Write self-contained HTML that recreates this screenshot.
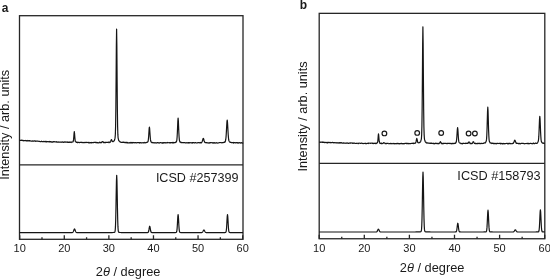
<!DOCTYPE html>
<html><head><meta charset="utf-8"><style>
html,body{margin:0;padding:0;background:#fff;}
body{width:550px;height:279px;overflow:hidden;}
svg{display:block;will-change:transform;}
text{font-family:"Liberation Sans",sans-serif;fill:#1a1a1a;}
</style></head><body>
<svg width="550" height="279" viewBox="0 0 550 279">
<g fill="none" stroke="#262626" stroke-width="1.3">
<rect x="19.5" y="15.7" width="223.50" height="223.60"/>
<path d="M19.5,164.8H243.0"/>
<rect x="319.2" y="13.35" width="225.60" height="225.40"/>
<path d="M319.2,163.4H544.8"/>
<path d="M19.70,239.30V235.30M41.99,239.30V237.30M64.29,239.30V235.30M86.58,239.30V237.30M108.88,239.30V235.30M131.17,239.30V237.30M153.47,239.30V235.30M175.76,239.30V237.30M198.06,239.30V235.30M220.35,239.30V237.30M242.65,239.30V235.30M319.20,238.75V234.75M341.75,238.75V236.75M364.30,238.75V234.75M386.85,238.75V236.75M409.40,238.75V234.75M431.95,238.75V236.75M454.50,238.75V234.75M477.05,238.75V236.75M499.60,238.75V234.75M522.15,238.75V236.75M544.70,238.75V234.75"/>
</g>
<g fill="none" stroke="#151515" stroke-width="1.2" stroke-linejoin="round">
<path d="M19.50,140.14 L19.90,140.34 L20.30,140.26 L20.70,140.42 L21.10,140.45 L21.50,140.14 L21.90,140.12 L22.30,140.64 L22.70,140.31 L23.10,140.32 L23.50,140.79 L23.90,140.50 L24.30,140.74 L24.70,140.54 L25.10,140.66 L25.50,140.38 L25.90,140.69 L26.30,140.85 L26.70,140.67 L27.10,140.82 L27.50,140.79 L27.90,140.45 L28.30,140.89 L28.70,140.80 L29.10,140.65 L29.50,140.51 L29.90,141.03 L30.30,140.81 L30.70,140.98 L31.10,141.10 L31.50,141.02 L31.90,141.16 L32.30,140.86 L32.70,141.13 L33.10,140.93 L33.50,141.25 L33.90,141.23 L34.30,140.78 L34.70,140.83 L35.10,140.89 L35.50,141.36 L35.90,141.07 L36.30,141.20 L36.70,141.02 L37.10,141.17 L37.50,141.11 L37.90,141.11 L38.30,141.27 L38.70,141.29 L39.10,141.50 L39.50,141.39 L39.90,141.56 L40.30,141.53 L40.70,141.63 L41.10,141.46 L41.50,141.18 L41.90,141.61 L42.30,141.70 L42.70,141.68 L43.10,141.50 L43.50,141.60 L43.90,141.32 L44.30,141.71 L44.70,141.58 L45.10,141.43 L45.50,141.31 L45.90,141.81 L46.30,141.91 L46.70,141.39 L47.10,141.83 L47.50,141.62 L47.90,141.48 L48.30,141.59 L48.70,141.89 L49.10,141.97 L49.50,141.50 L49.90,141.86 L50.30,141.53 L50.70,141.94 L51.10,141.72 L51.50,142.06 L51.90,142.13 L52.30,141.86 L52.70,142.16 L53.10,141.76 L53.50,141.63 L53.90,141.95 L54.30,141.62 L54.70,141.73 L55.10,141.87 L55.50,142.00 L55.90,141.73 L56.30,141.68 L56.70,142.18 L57.10,141.86 L57.50,142.25 L57.90,142.23 L58.30,141.93 L58.70,141.99 L59.10,142.03 L59.50,142.11 L59.90,142.10 L60.30,142.08 L60.70,142.13 L61.10,142.33 L61.50,142.08 L61.90,142.05 L62.30,142.23 L62.70,141.95 L63.10,142.00 L63.50,142.41 L63.90,142.15 L64.30,142.17 L64.70,141.86 L65.10,142.11 L65.50,142.22 L65.90,141.89 L66.30,142.26 L66.70,142.27 L67.10,141.94 L67.50,142.29 L67.90,142.20 L68.30,142.33 L68.70,142.14 L69.10,142.36 L69.50,142.38 L69.90,141.96 L70.30,141.98 L70.70,142.34 L71.10,142.51 L71.30,142.07 L71.55,142.18 L71.80,142.25 L72.05,142.06 L72.30,142.05 L72.55,141.96 L72.80,141.89 L73.05,141.81 L73.30,141.06 L73.55,139.67 L73.80,136.98 L74.05,133.46 L74.30,131.59 L74.55,133.47 L74.80,137.01 L75.05,139.61 L75.30,141.41 L75.55,141.66 L75.80,141.86 L76.05,142.12 L76.30,142.34 L76.55,142.04 L76.80,142.21 L77.05,142.25 L77.30,142.57 L77.50,142.35 L77.90,142.63 L78.30,142.24 L78.70,142.35 L79.10,142.54 L79.50,142.69 L79.90,142.44 L80.30,142.31 L80.70,142.25 L81.10,142.50 L81.50,142.30 L81.90,142.67 L82.30,142.70 L82.70,142.31 L83.10,142.37 L83.50,142.69 L83.90,142.59 L84.30,142.69 L84.70,142.42 L85.10,142.29 L85.50,142.39 L85.90,142.69 L86.30,142.38 L86.70,142.43 L87.10,142.47 L87.50,142.48 L87.90,142.47 L88.30,142.78 L88.70,142.32 L89.10,142.23 L89.50,142.80 L89.90,142.76 L90.30,142.83 L90.70,142.50 L91.10,142.81 L91.50,142.80 L91.90,142.37 L92.30,142.69 L92.70,142.75 L93.10,142.64 L93.50,142.56 L93.90,142.42 L94.30,142.45 L94.70,142.39 L95.10,142.29 L95.50,142.60 L95.90,142.42 L96.30,142.74 L96.70,142.28 L97.10,142.79 L97.50,142.67 L97.90,142.81 L98.30,142.79 L98.70,142.79 L99.10,142.59 L99.50,142.25 L99.60,142.69 L99.85,142.35 L100.10,142.42 L100.35,142.63 L100.60,142.54 L100.85,142.47 L101.10,142.77 L101.35,142.53 L101.60,142.29 L101.85,142.08 L102.10,141.99 L102.35,141.75 L102.60,141.63 L102.85,141.75 L103.10,141.99 L103.35,142.24 L103.60,142.56 L103.85,142.26 L104.10,142.66 L104.35,142.76 L104.60,142.69 L104.85,142.71 L105.10,142.22 L105.35,142.59 L105.60,142.73 L105.90,142.24 L106.30,142.36 L106.70,142.35 L107.10,142.50 L107.50,142.43 L107.90,142.44 L108.30,142.60 L108.40,142.13 L108.65,142.15 L108.90,142.17 L109.15,142.15 L109.40,142.09 L109.65,142.60 L109.90,142.47 L110.15,141.92 L110.40,141.95 L110.65,141.40 L110.90,140.80 L111.15,139.98 L111.40,139.55 L111.65,139.90 L111.90,140.64 L112.15,141.07 L112.40,141.50 L112.65,141.48 L112.90,141.72 L113.15,141.72 L113.40,141.39 L113.60,141.07 L113.65,141.09 L113.85,141.02 L113.90,141.10 L114.10,140.97 L114.15,140.65 L114.35,140.58 L114.40,140.37 L114.60,139.80 L114.85,138.93 L115.10,137.51 L115.35,134.27 L115.60,125.90 L115.85,108.50 L116.10,79.21 L116.35,45.66 L116.60,28.98 L116.85,45.66 L117.10,79.22 L117.35,108.35 L117.60,125.92 L117.85,134.40 L118.10,137.80 L118.35,138.97 L118.60,140.12 L118.85,140.62 L119.10,140.71 L119.35,141.14 L119.60,141.17 L119.90,141.81 L120.30,141.93 L120.70,142.23 L121.10,142.29 L121.50,142.31 L121.90,142.42 L122.30,142.38 L122.70,142.15 L123.10,142.48 L123.50,142.16 L123.90,142.28 L124.30,142.68 L124.70,142.26 L125.10,142.31 L125.50,142.33 L125.90,142.81 L126.30,142.41 L126.70,142.32 L127.10,142.83 L127.50,142.40 L127.90,142.85 L128.30,142.75 L128.70,142.86 L129.10,142.93 L129.50,142.71 L129.90,142.85 L130.30,142.40 L130.70,142.84 L131.10,142.70 L131.50,142.82 L131.90,142.46 L132.30,142.85 L132.70,142.97 L133.10,142.45 L133.50,142.61 L133.90,142.76 L134.30,142.92 L134.70,142.57 L135.10,142.53 L135.50,142.58 L135.90,142.80 L136.30,142.89 L136.70,142.67 L137.10,142.66 L137.50,142.68 L137.90,142.65 L138.30,142.69 L138.70,142.49 L139.10,142.75 L139.50,143.03 L139.90,142.70 L140.30,142.90 L140.70,142.54 L141.10,142.86 L141.50,142.89 L141.90,142.84 L142.30,142.74 L142.70,142.72 L143.10,142.81 L143.50,142.95 L143.90,142.50 L144.30,142.45 L144.70,142.83 L145.10,142.91 L145.50,142.65 L145.90,142.57 L146.30,142.69 L146.40,142.35 L146.65,142.36 L146.90,142.26 L147.15,142.41 L147.40,142.13 L147.65,141.89 L147.90,141.77 L148.15,141.09 L148.40,139.03 L148.65,136.46 L148.90,132.50 L149.15,128.70 L149.40,126.98 L149.65,128.70 L149.90,132.50 L150.15,136.05 L150.40,139.15 L150.65,140.75 L150.90,141.47 L151.15,141.97 L151.40,142.14 L151.65,142.53 L151.90,142.23 L152.15,142.80 L152.40,142.54 L152.70,142.65 L153.10,142.61 L153.50,142.86 L153.90,142.88 L154.30,142.74 L154.70,142.70 L155.10,142.86 L155.50,142.95 L155.90,142.68 L156.30,142.89 L156.70,143.03 L157.10,142.74 L157.50,142.60 L157.90,142.61 L158.30,142.90 L158.70,142.88 L159.10,143.05 L159.50,142.99 L159.90,142.62 L160.30,142.59 L160.70,142.64 L161.10,142.60 L161.50,142.91 L161.90,143.00 L162.30,143.03 L162.70,142.64 L163.10,143.01 L163.50,142.67 L163.90,142.74 L164.30,142.92 L164.70,142.54 L165.10,142.54 L165.50,142.99 L165.90,142.66 L166.30,142.70 L166.70,142.83 L167.10,142.89 L167.50,142.48 L167.90,142.68 L168.30,142.74 L168.70,142.76 L169.10,142.60 L169.50,142.82 L169.90,143.04 L170.30,142.69 L170.70,142.78 L171.10,142.52 L171.50,142.60 L171.90,142.82 L172.30,142.48 L172.70,142.93 L173.10,142.92 L173.50,142.41 L173.90,142.88 L174.30,142.50 L174.70,142.68 L175.10,142.59 L175.35,142.24 L175.60,142.38 L175.85,142.25 L176.10,142.16 L176.35,141.53 L176.60,141.21 L176.85,140.02 L177.10,137.24 L177.35,132.74 L177.60,126.72 L177.85,120.77 L178.10,118.09 L178.35,120.77 L178.60,126.72 L178.85,132.76 L179.10,136.95 L179.35,139.83 L179.60,141.14 L179.85,141.48 L180.10,142.21 L180.35,142.25 L180.60,142.05 L180.85,142.63 L181.10,142.23 L181.50,142.42 L181.90,142.72 L182.30,142.69 L182.70,142.69 L183.10,142.78 L183.50,142.68 L183.90,142.61 L184.30,142.54 L184.70,142.49 L185.10,142.89 L185.50,142.92 L185.90,142.80 L186.30,142.92 L186.70,142.70 L187.10,142.65 L187.50,142.72 L187.90,143.02 L188.30,142.53 L188.70,142.81 L189.10,142.65 L189.50,142.97 L189.90,142.72 L190.30,142.71 L190.70,142.75 L191.10,142.84 L191.50,142.98 L191.90,142.73 L192.30,143.02 L192.70,142.58 L193.10,142.68 L193.50,142.58 L193.90,142.59 L194.30,142.99 L194.70,142.95 L195.10,142.63 L195.50,142.63 L195.90,142.77 L196.30,142.96 L196.70,143.00 L197.10,142.96 L197.50,142.86 L197.90,142.59 L198.30,142.74 L198.70,142.61 L199.10,142.80 L199.50,142.82 L199.90,142.58 L200.30,142.59 L200.55,142.89 L200.80,142.41 L201.05,142.84 L201.30,142.82 L201.55,142.74 L201.80,142.17 L202.05,141.89 L202.30,141.30 L202.55,140.52 L202.80,139.51 L203.05,138.71 L203.30,138.38 L203.55,138.71 L203.80,139.51 L204.05,140.50 L204.30,141.39 L204.55,141.56 L204.80,142.41 L205.05,142.57 L205.30,142.59 L205.55,142.67 L205.80,142.67 L206.05,142.54 L206.30,142.76 L206.70,142.49 L207.10,142.78 L207.50,142.88 L207.90,142.77 L208.30,142.85 L208.70,143.09 L209.10,143.05 L209.50,142.60 L209.90,143.00 L210.30,142.90 L210.70,142.56 L211.10,142.74 L211.50,142.67 L211.90,142.58 L212.30,142.85 L212.70,143.09 L213.10,142.72 L213.50,143.05 L213.90,142.95 L214.30,142.61 L214.70,143.04 L215.10,142.89 L215.50,143.08 L215.90,142.95 L216.30,142.96 L216.70,142.72 L217.10,143.00 L217.50,143.07 L217.90,143.02 L218.30,142.77 L218.70,142.95 L219.10,142.78 L219.50,142.55 L219.90,142.50 L220.30,142.51 L220.70,142.57 L221.10,142.53 L221.50,142.72 L221.90,142.81 L222.30,142.69 L222.70,142.58 L223.10,142.67 L223.50,142.40 L223.90,142.41 L224.20,142.50 L224.45,142.19 L224.70,141.92 L224.95,142.16 L225.20,141.71 L225.45,140.87 L225.70,139.73 L225.95,137.83 L226.20,134.77 L226.45,130.36 L226.70,125.77 L226.95,121.68 L227.20,120.00 L227.45,121.68 L227.70,125.77 L227.95,130.35 L228.20,134.54 L228.45,137.62 L228.70,139.75 L228.95,140.76 L229.20,141.30 L229.45,141.69 L229.70,141.92 L229.95,142.25 L230.20,142.09 L230.30,142.10 L230.70,142.46 L231.10,142.51 L231.50,142.74 L231.90,142.39 L232.30,142.64 L232.70,142.66 L233.10,142.46 L233.50,143.04 L233.90,142.61 L234.30,142.54 L234.70,142.78 L235.10,142.61 L235.50,142.89 L235.90,142.73 L236.30,142.60 L236.70,142.57 L237.10,142.98 L237.50,142.71 L237.90,143.02 L238.30,142.83 L238.70,143.11 L239.10,142.74 L239.50,142.71 L239.90,142.72 L240.30,143.05 L240.70,142.94 L241.10,142.78 L241.50,142.63 L241.90,142.98 L242.30,143.16 L242.70,142.93 L243.10,142.58"/>
<path d="M19.50,232.60 L19.75,232.60 L20.00,232.60 L20.25,232.60 L20.50,232.60 L20.75,232.60 L21.00,232.60 L21.25,232.60 L21.50,232.60 L21.75,232.60 L22.00,232.60 L22.25,232.60 L22.50,232.60 L22.75,232.60 L23.00,232.60 L23.25,232.60 L23.50,232.60 L23.75,232.60 L24.00,232.60 L24.25,232.60 L24.50,232.60 L24.75,232.60 L25.00,232.60 L25.25,232.60 L25.50,232.60 L25.75,232.60 L26.00,232.60 L26.25,232.60 L26.50,232.60 L26.75,232.60 L27.00,232.60 L27.25,232.60 L27.50,232.60 L27.75,232.60 L28.00,232.60 L28.25,232.60 L28.50,232.60 L28.75,232.60 L29.00,232.60 L29.25,232.60 L29.50,232.60 L29.75,232.60 L30.00,232.60 L30.25,232.60 L30.50,232.60 L30.75,232.60 L31.00,232.60 L31.25,232.60 L31.50,232.60 L31.75,232.60 L32.00,232.60 L32.25,232.60 L32.50,232.60 L32.75,232.60 L33.00,232.60 L33.25,232.60 L33.50,232.60 L33.75,232.60 L34.00,232.60 L34.25,232.60 L34.50,232.60 L34.75,232.60 L35.00,232.60 L35.25,232.60 L35.50,232.60 L35.75,232.60 L36.00,232.60 L36.25,232.60 L36.50,232.60 L36.75,232.60 L37.00,232.60 L37.25,232.60 L37.50,232.60 L37.75,232.60 L38.00,232.60 L38.25,232.60 L38.50,232.60 L38.75,232.60 L39.00,232.60 L39.25,232.60 L39.50,232.60 L39.75,232.60 L40.00,232.60 L40.25,232.60 L40.50,232.60 L40.75,232.60 L41.00,232.60 L41.25,232.60 L41.50,232.60 L41.75,232.60 L42.00,232.60 L42.25,232.60 L42.50,232.60 L42.75,232.60 L43.00,232.60 L43.25,232.60 L43.50,232.60 L43.75,232.60 L44.00,232.60 L44.25,232.60 L44.50,232.60 L44.75,232.60 L45.00,232.60 L45.25,232.60 L45.50,232.60 L45.75,232.60 L46.00,232.60 L46.25,232.60 L46.50,232.60 L46.75,232.60 L47.00,232.60 L47.25,232.60 L47.50,232.60 L47.75,232.60 L48.00,232.60 L48.25,232.60 L48.50,232.60 L48.75,232.60 L49.00,232.60 L49.25,232.60 L49.50,232.60 L49.75,232.60 L50.00,232.60 L50.25,232.60 L50.50,232.60 L50.75,232.60 L51.00,232.60 L51.25,232.60 L51.50,232.60 L51.75,232.60 L52.00,232.60 L52.25,232.60 L52.50,232.60 L52.75,232.60 L53.00,232.60 L53.25,232.60 L53.50,232.60 L53.75,232.60 L54.00,232.60 L54.25,232.60 L54.50,232.60 L54.75,232.60 L55.00,232.60 L55.25,232.60 L55.50,232.60 L55.75,232.60 L56.00,232.60 L56.25,232.60 L56.50,232.60 L56.75,232.60 L57.00,232.60 L57.25,232.60 L57.50,232.60 L57.75,232.60 L58.00,232.60 L58.25,232.60 L58.50,232.60 L58.75,232.60 L59.00,232.60 L59.25,232.60 L59.50,232.60 L59.75,232.60 L60.00,232.60 L60.25,232.60 L60.50,232.60 L60.75,232.60 L61.00,232.60 L61.25,232.60 L61.50,232.60 L61.75,232.60 L62.00,232.60 L62.25,232.60 L62.50,232.60 L62.75,232.60 L63.00,232.60 L63.25,232.60 L63.50,232.60 L63.75,232.60 L64.00,232.60 L64.25,232.60 L64.50,232.60 L64.75,232.60 L65.00,232.60 L65.25,232.60 L65.50,232.60 L65.75,232.60 L66.00,232.60 L66.25,232.60 L66.50,232.60 L66.75,232.60 L67.00,232.60 L67.25,232.60 L67.50,232.60 L67.75,232.60 L68.00,232.60 L68.25,232.60 L68.50,232.60 L68.75,232.60 L69.00,232.60 L69.25,232.59 L69.50,232.59 L69.75,232.59 L70.00,232.59 L70.25,232.59 L70.50,232.59 L70.75,232.59 L71.00,232.59 L71.25,232.59 L71.50,232.58 L71.75,232.58 L72.00,232.57 L72.25,232.55 L72.50,232.50 L72.75,232.38 L73.00,232.15 L73.25,231.76 L73.50,231.17 L73.75,230.45 L74.00,229.70 L74.25,229.12 L74.50,228.90 L74.75,229.12 L75.00,229.70 L75.25,230.45 L75.50,231.17 L75.75,231.76 L76.00,232.15 L76.25,232.38 L76.50,232.50 L76.75,232.55 L77.00,232.57 L77.25,232.58 L77.50,232.58 L77.75,232.59 L78.00,232.59 L78.25,232.59 L78.50,232.59 L78.75,232.59 L79.00,232.59 L79.25,232.59 L79.50,232.59 L79.75,232.59 L80.00,232.59 L80.25,232.59 L80.50,232.60 L80.75,232.60 L81.00,232.60 L81.25,232.60 L81.50,232.60 L81.75,232.60 L82.00,232.60 L82.25,232.60 L82.50,232.60 L82.75,232.60 L83.00,232.60 L83.25,232.60 L83.50,232.60 L83.75,232.60 L84.00,232.60 L84.25,232.60 L84.50,232.60 L84.75,232.60 L85.00,232.60 L85.25,232.60 L85.50,232.60 L85.75,232.60 L86.00,232.60 L86.25,232.60 L86.50,232.60 L86.75,232.60 L87.00,232.60 L87.25,232.60 L87.50,232.60 L87.75,232.60 L88.00,232.60 L88.25,232.60 L88.50,232.60 L88.75,232.60 L89.00,232.60 L89.25,232.60 L89.50,232.60 L89.75,232.60 L90.00,232.60 L90.25,232.60 L90.50,232.60 L90.75,232.60 L91.00,232.60 L91.25,232.60 L91.50,232.60 L91.75,232.60 L92.00,232.60 L92.25,232.60 L92.50,232.60 L92.75,232.60 L93.00,232.60 L93.25,232.60 L93.50,232.60 L93.75,232.60 L94.00,232.60 L94.25,232.60 L94.50,232.60 L94.75,232.60 L95.00,232.60 L95.25,232.60 L95.50,232.60 L95.75,232.60 L96.00,232.60 L96.25,232.60 L96.50,232.60 L96.75,232.60 L97.00,232.60 L97.25,232.60 L97.50,232.60 L97.75,232.60 L98.00,232.60 L98.25,232.60 L98.50,232.60 L98.75,232.60 L99.00,232.60 L99.25,232.60 L99.50,232.60 L99.75,232.60 L100.00,232.59 L100.25,232.59 L100.50,232.59 L100.75,232.59 L101.00,232.59 L101.25,232.59 L101.50,232.59 L101.75,232.59 L102.00,232.59 L102.25,232.59 L102.50,232.59 L102.75,232.59 L103.00,232.59 L103.25,232.59 L103.50,232.59 L103.75,232.59 L104.00,232.59 L104.25,232.59 L104.50,232.59 L104.75,232.59 L105.00,232.59 L105.25,232.59 L105.50,232.59 L105.75,232.59 L106.00,232.59 L106.25,232.59 L106.50,232.59 L106.75,232.59 L107.00,232.59 L107.25,232.59 L107.50,232.58 L107.75,232.58 L108.00,232.58 L108.25,232.58 L108.50,232.58 L108.75,232.58 L109.00,232.58 L109.25,232.58 L109.50,232.57 L109.75,232.57 L110.00,232.57 L110.25,232.57 L110.50,232.57 L110.75,232.56 L111.00,232.56 L111.25,232.56 L111.50,232.55 L111.75,232.55 L112.00,232.54 L112.25,232.54 L112.50,232.53 L112.75,232.52 L113.00,232.51 L113.25,232.49 L113.50,232.48 L113.70,232.46 L113.95,232.44 L114.20,232.40 L114.45,232.34 L114.70,232.18 L114.95,231.71 L115.20,230.35 L115.45,226.91 L115.70,219.84 L115.95,208.23 L116.20,193.60 L116.45,180.67 L116.70,175.40 L116.95,180.67 L117.20,193.60 L117.45,208.23 L117.70,219.84 L117.95,226.91 L118.20,230.35 L118.45,231.71 L118.70,232.18 L118.95,232.34 L119.20,232.40 L119.45,232.44 L119.70,232.46 L119.75,232.47 L120.00,232.48 L120.25,232.50 L120.50,232.51 L120.75,232.52 L121.00,232.53 L121.25,232.54 L121.50,232.54 L121.75,232.55 L122.00,232.55 L122.25,232.56 L122.50,232.56 L122.75,232.56 L123.00,232.57 L123.25,232.57 L123.50,232.57 L123.75,232.57 L124.00,232.58 L124.25,232.58 L124.50,232.58 L124.75,232.58 L125.00,232.58 L125.25,232.58 L125.50,232.58 L125.75,232.58 L126.00,232.58 L126.25,232.59 L126.50,232.59 L126.75,232.59 L127.00,232.59 L127.25,232.59 L127.50,232.59 L127.75,232.59 L128.00,232.59 L128.25,232.59 L128.50,232.59 L128.75,232.59 L129.00,232.59 L129.25,232.59 L129.50,232.59 L129.75,232.59 L130.00,232.59 L130.25,232.59 L130.50,232.59 L130.75,232.59 L131.00,232.59 L131.25,232.59 L131.50,232.59 L131.75,232.59 L132.00,232.59 L132.25,232.59 L132.50,232.59 L132.75,232.59 L133.00,232.59 L133.25,232.59 L133.50,232.59 L133.75,232.59 L134.00,232.59 L134.25,232.59 L134.50,232.59 L134.75,232.59 L135.00,232.60 L135.25,232.60 L135.50,232.60 L135.75,232.60 L136.00,232.60 L136.25,232.60 L136.50,232.60 L136.75,232.60 L137.00,232.60 L137.25,232.60 L137.50,232.60 L137.75,232.60 L138.00,232.60 L138.25,232.60 L138.50,232.60 L138.75,232.60 L139.00,232.60 L139.25,232.60 L139.50,232.60 L139.75,232.60 L140.00,232.60 L140.25,232.60 L140.50,232.60 L140.75,232.60 L141.00,232.60 L141.25,232.60 L141.50,232.60 L141.75,232.60 L142.00,232.59 L142.25,232.59 L142.50,232.59 L142.75,232.59 L143.00,232.59 L143.25,232.59 L143.50,232.59 L143.75,232.59 L144.00,232.59 L144.25,232.59 L144.50,232.59 L144.75,232.59 L145.00,232.59 L145.25,232.59 L145.50,232.59 L145.75,232.59 L146.00,232.59 L146.25,232.59 L146.50,232.58 L146.70,232.58 L146.95,232.58 L147.20,232.57 L147.45,232.57 L147.70,232.54 L147.95,232.47 L148.20,232.29 L148.45,231.85 L148.70,231.02 L148.95,229.71 L149.20,228.12 L149.45,226.75 L149.70,226.20 L149.95,226.75 L150.20,228.12 L150.45,229.71 L150.70,231.02 L150.95,231.86 L151.20,232.29 L151.45,232.47 L151.70,232.54 L151.95,232.57 L152.20,232.57 L152.45,232.58 L152.70,232.58 L152.75,232.58 L153.00,232.58 L153.25,232.59 L153.50,232.59 L153.75,232.59 L154.00,232.59 L154.25,232.59 L154.50,232.59 L154.75,232.59 L155.00,232.59 L155.25,232.59 L155.50,232.59 L155.75,232.59 L156.00,232.59 L156.25,232.59 L156.50,232.59 L156.75,232.60 L157.00,232.60 L157.25,232.60 L157.50,232.60 L157.75,232.60 L158.00,232.60 L158.25,232.60 L158.50,232.60 L158.75,232.60 L159.00,232.60 L159.25,232.60 L159.50,232.60 L159.75,232.60 L160.00,232.60 L160.25,232.60 L160.50,232.60 L160.75,232.60 L161.00,232.60 L161.25,232.60 L161.50,232.60 L161.75,232.60 L162.00,232.60 L162.25,232.60 L162.50,232.60 L162.75,232.60 L163.00,232.60 L163.25,232.60 L163.50,232.60 L163.75,232.60 L164.00,232.60 L164.25,232.60 L164.50,232.60 L164.75,232.60 L165.00,232.60 L165.25,232.60 L165.50,232.60 L165.75,232.60 L166.00,232.60 L166.25,232.60 L166.50,232.60 L166.75,232.60 L167.00,232.60 L167.25,232.60 L167.50,232.60 L167.75,232.60 L168.00,232.59 L168.25,232.59 L168.50,232.59 L168.75,232.59 L169.00,232.59 L169.25,232.59 L169.50,232.59 L169.75,232.59 L170.00,232.59 L170.25,232.59 L170.50,232.59 L170.75,232.59 L171.00,232.59 L171.25,232.59 L171.50,232.59 L171.75,232.59 L172.00,232.59 L172.25,232.59 L172.50,232.59 L172.75,232.59 L173.00,232.58 L173.25,232.58 L173.50,232.58 L173.75,232.58 L174.00,232.58 L174.25,232.57 L174.50,232.57 L174.75,232.56 L175.00,232.56 L175.10,232.56 L175.35,232.55 L175.60,232.54 L175.85,232.52 L176.10,232.47 L176.35,232.32 L176.60,231.89 L176.85,230.82 L177.10,228.60 L177.35,224.97 L177.60,220.40 L177.85,216.35 L178.10,214.70 L178.35,216.35 L178.60,220.40 L178.85,224.97 L179.10,228.60 L179.35,230.82 L179.60,231.89 L179.85,232.32 L180.10,232.47 L180.35,232.52 L180.60,232.54 L180.85,232.55 L181.10,232.56 L181.25,232.56 L181.50,232.57 L181.75,232.57 L182.00,232.57 L182.25,232.58 L182.50,232.58 L182.75,232.58 L183.00,232.58 L183.25,232.58 L183.50,232.59 L183.75,232.59 L184.00,232.59 L184.25,232.59 L184.50,232.59 L184.75,232.59 L185.00,232.59 L185.25,232.59 L185.50,232.59 L185.75,232.59 L186.00,232.59 L186.25,232.59 L186.50,232.59 L186.75,232.59 L187.00,232.59 L187.25,232.59 L187.50,232.59 L187.75,232.59 L188.00,232.59 L188.25,232.59 L188.50,232.60 L188.75,232.60 L189.00,232.60 L189.25,232.60 L189.50,232.60 L189.75,232.60 L190.00,232.60 L190.25,232.60 L190.50,232.60 L190.75,232.60 L191.00,232.60 L191.25,232.60 L191.50,232.60 L191.75,232.60 L192.00,232.60 L192.25,232.60 L192.50,232.60 L192.75,232.60 L193.00,232.60 L193.25,232.60 L193.50,232.60 L193.75,232.60 L194.00,232.60 L194.25,232.60 L194.50,232.60 L194.75,232.60 L195.00,232.60 L195.25,232.60 L195.50,232.60 L195.75,232.60 L196.00,232.60 L196.25,232.60 L196.50,232.60 L196.75,232.60 L197.00,232.60 L197.25,232.60 L197.50,232.60 L197.75,232.60 L198.00,232.60 L198.25,232.60 L198.50,232.59 L198.75,232.59 L199.00,232.59 L199.25,232.59 L199.50,232.59 L199.75,232.59 L200.00,232.59 L200.25,232.59 L200.50,232.59 L200.75,232.59 L200.90,232.59 L201.15,232.58 L201.40,232.57 L201.65,232.55 L201.90,232.50 L202.15,232.39 L202.40,232.20 L202.65,231.91 L202.90,231.49 L203.15,231.00 L203.40,230.50 L203.65,230.14 L203.90,230.00 L204.15,230.14 L204.40,230.50 L204.65,231.00 L204.90,231.49 L205.15,231.91 L205.40,232.20 L205.65,232.39 L205.90,232.50 L206.15,232.55 L206.40,232.57 L206.65,232.58 L206.90,232.59 L207.00,232.59 L207.25,232.59 L207.50,232.59 L207.75,232.59 L208.00,232.59 L208.25,232.59 L208.50,232.59 L208.75,232.59 L209.00,232.59 L209.25,232.59 L209.50,232.59 L209.75,232.60 L210.00,232.60 L210.25,232.60 L210.50,232.60 L210.75,232.60 L211.00,232.60 L211.25,232.60 L211.50,232.60 L211.75,232.60 L212.00,232.60 L212.25,232.60 L212.50,232.60 L212.75,232.60 L213.00,232.60 L213.25,232.60 L213.50,232.60 L213.75,232.60 L214.00,232.60 L214.25,232.60 L214.50,232.60 L214.75,232.60 L215.00,232.60 L215.25,232.60 L215.50,232.60 L215.75,232.60 L216.00,232.60 L216.25,232.60 L216.50,232.60 L216.75,232.60 L217.00,232.60 L217.25,232.60 L217.50,232.59 L217.75,232.59 L218.00,232.59 L218.25,232.59 L218.50,232.59 L218.75,232.59 L219.00,232.59 L219.25,232.59 L219.50,232.59 L219.75,232.59 L220.00,232.59 L220.25,232.59 L220.50,232.59 L220.75,232.59 L221.00,232.59 L221.25,232.59 L221.50,232.59 L221.75,232.59 L222.00,232.59 L222.25,232.58 L222.50,232.58 L222.75,232.58 L223.00,232.58 L223.25,232.58 L223.50,232.57 L223.75,232.57 L224.00,232.57 L224.25,232.56 L224.50,232.56 L224.75,232.55 L225.00,232.54 L225.25,232.52 L225.50,232.47 L225.75,232.32 L226.00,231.89 L226.25,230.82 L226.50,228.61 L226.75,224.97 L227.00,220.40 L227.25,216.35 L227.50,214.70 L227.75,216.35 L228.00,220.40 L228.25,224.97 L228.50,228.61 L228.75,230.82 L229.00,231.89 L229.25,232.32 L229.50,232.47 L229.75,232.52 L230.00,232.54 L230.25,232.55 L230.50,232.56 L230.75,232.56 L231.00,232.57 L231.25,232.57 L231.50,232.57 L231.75,232.58 L232.00,232.58 L232.25,232.58 L232.50,232.58 L232.75,232.59 L233.00,232.59 L233.25,232.59 L233.50,232.59 L233.75,232.59 L234.00,232.59 L234.25,232.59 L234.50,232.59 L234.75,232.59 L235.00,232.59 L235.25,232.59 L235.50,232.59 L235.75,232.59 L236.00,232.59 L236.25,232.59 L236.50,232.59 L236.75,232.59 L237.00,232.60 L237.25,232.60 L237.50,232.60 L237.75,232.60 L238.00,232.60 L238.25,232.60 L238.50,232.60 L238.75,232.60 L239.00,232.60 L239.25,232.60 L239.50,232.60 L239.75,232.60 L240.00,232.60 L240.25,232.60 L240.50,232.60 L240.75,232.60 L241.00,232.60 L241.25,232.60 L241.50,232.60 L241.75,232.60 L242.00,232.60 L242.25,232.60 L242.50,232.60 L242.75,232.60 L243.00,232.60"/>
<path d="M319.20,142.19 L319.60,142.10 L320.00,142.41 L320.40,142.08 L320.80,142.37 L321.20,142.28 L321.60,142.10 L322.00,142.38 L322.40,142.11 L322.80,142.36 L323.20,142.16 L323.60,142.18 L324.00,142.39 L324.40,142.64 L324.80,142.23 L325.20,142.30 L325.60,142.56 L326.00,142.76 L326.40,142.55 L326.80,142.45 L327.20,142.81 L327.60,142.27 L328.00,142.77 L328.40,142.44 L328.80,142.36 L329.20,142.36 L329.60,142.48 L330.00,142.80 L330.40,142.43 L330.80,142.68 L331.20,142.73 L331.60,142.58 L332.00,142.70 L332.40,142.42 L332.80,142.43 L333.20,142.52 L333.60,142.82 L334.00,142.68 L334.40,142.62 L334.80,142.80 L335.20,142.73 L335.60,142.65 L336.00,142.96 L336.40,142.91 L336.80,142.65 L337.20,142.86 L337.60,142.84 L338.00,143.06 L338.40,142.99 L338.80,142.74 L339.20,143.16 L339.60,142.66 L340.00,142.85 L340.40,143.06 L340.80,142.71 L341.20,142.92 L341.60,142.66 L342.00,143.05 L342.40,143.12 L342.80,143.01 L343.20,143.20 L343.60,142.87 L344.00,143.11 L344.40,143.06 L344.80,143.06 L345.20,143.00 L345.60,143.24 L346.00,143.31 L346.40,143.04 L346.80,143.16 L347.20,142.81 L347.60,143.21 L348.00,143.18 L348.40,143.40 L348.80,143.31 L349.20,143.00 L349.60,143.07 L350.00,143.25 L350.40,142.87 L350.80,143.14 L351.20,142.98 L351.60,142.96 L352.00,142.93 L352.40,143.37 L352.80,142.99 L353.20,143.07 L353.60,143.17 L354.00,143.47 L354.40,143.00 L354.80,143.23 L355.20,143.30 L355.60,143.51 L356.00,143.49 L356.40,143.52 L356.80,143.18 L357.20,143.27 L357.60,143.25 L358.00,143.57 L358.40,143.63 L358.80,143.15 L359.20,143.18 L359.60,143.22 L360.00,143.23 L360.40,143.39 L360.80,143.45 L361.20,143.26 L361.60,143.10 L362.00,143.35 L362.40,143.33 L362.80,143.45 L363.20,143.68 L363.60,143.52 L364.00,143.42 L364.40,143.48 L364.80,143.52 L365.20,143.15 L365.60,143.66 L366.00,143.59 L366.40,143.65 L366.80,143.60 L367.20,143.36 L367.60,143.37 L368.00,143.19 L368.40,143.51 L368.80,143.17 L369.20,143.17 L369.60,143.26 L370.00,143.23 L370.40,143.34 L370.80,143.17 L371.20,143.14 L371.60,143.23 L372.00,143.20 L372.40,143.35 L372.80,143.15 L373.20,143.66 L373.60,143.50 L374.00,143.21 L374.40,143.27 L374.80,143.32 L375.20,143.32 L375.50,143.16 L375.75,143.58 L376.00,143.65 L376.25,143.31 L376.50,143.28 L376.75,142.99 L377.00,142.92 L377.25,142.91 L377.50,142.43 L377.75,141.61 L378.00,138.99 L378.25,135.70 L378.50,133.89 L378.75,135.71 L379.00,139.00 L379.25,141.44 L379.50,142.29 L379.75,143.03 L380.00,143.46 L380.25,143.47 L380.50,143.42 L380.75,143.20 L380.80,143.27 L381.00,143.16 L381.05,143.53 L381.25,143.40 L381.30,143.55 L381.50,143.29 L381.55,143.23 L381.80,143.59 L382.05,143.69 L382.30,143.60 L382.55,143.54 L382.80,143.47 L383.05,143.28 L383.30,142.94 L383.55,142.75 L383.80,142.66 L384.05,142.76 L384.30,142.96 L384.55,143.03 L384.80,143.16 L385.05,143.51 L385.30,143.71 L385.55,143.43 L385.80,143.74 L386.05,143.78 L386.30,143.76 L386.55,143.41 L386.80,143.33 L387.20,143.34 L387.60,143.33 L388.00,143.34 L388.40,143.59 L388.80,143.76 L389.20,143.73 L389.60,143.51 L390.00,143.62 L390.40,143.71 L390.80,143.28 L391.20,143.63 L391.60,143.78 L392.00,143.71 L392.40,143.69 L392.80,143.53 L393.20,143.35 L393.60,143.72 L394.00,143.45 L394.40,143.73 L394.80,143.83 L395.20,143.49 L395.60,143.50 L396.00,143.82 L396.40,143.69 L396.80,143.36 L397.20,143.34 L397.60,143.35 L398.00,143.81 L398.40,143.75 L398.80,143.35 L399.20,143.76 L399.60,143.86 L400.00,143.66 L400.40,143.48 L400.80,143.60 L401.20,143.35 L401.60,143.27 L402.00,143.85 L402.40,143.65 L402.80,143.58 L403.20,143.82 L403.60,143.52 L404.00,143.78 L404.40,143.75 L404.80,143.38 L405.20,143.40 L405.60,143.43 L406.00,143.39 L406.40,143.60 L406.80,143.40 L407.20,143.49 L407.60,143.32 L408.00,143.78 L408.40,143.44 L408.80,143.50 L409.20,143.57 L409.60,143.76 L410.00,143.46 L410.40,143.75 L410.80,143.50 L411.20,143.51 L411.60,143.49 L412.00,143.18 L412.40,143.42 L412.80,143.25 L413.20,143.12 L413.60,143.58 L413.80,143.19 L414.05,143.35 L414.30,143.47 L414.55,143.34 L414.80,143.16 L415.05,143.22 L415.30,143.14 L415.55,143.07 L415.80,142.22 L416.05,141.66 L416.30,140.39 L416.55,139.09 L416.80,138.47 L417.05,139.04 L417.30,140.29 L417.55,141.61 L417.80,142.47 L418.05,142.57 L418.30,142.81 L418.55,142.77 L418.80,142.74 L419.05,142.78 L419.30,142.54 L419.55,142.47 L419.80,142.27 L419.90,142.47 L420.15,142.09 L420.40,141.89 L420.65,141.52 L420.90,140.54 L421.15,139.86 L421.40,138.56 L421.65,135.04 L421.90,126.20 L422.15,108.16 L422.40,78.44 L422.65,43.99 L422.90,26.88 L423.15,44.00 L423.40,78.44 L423.65,108.57 L423.90,126.66 L424.15,134.64 L424.40,138.44 L424.65,139.94 L424.90,140.49 L425.15,141.51 L425.40,141.98 L425.65,141.85 L425.90,142.53 L426.00,142.28 L426.40,142.60 L426.80,143.09 L427.20,143.13 L427.60,142.83 L428.00,143.08 L428.40,143.19 L428.80,143.14 L429.20,143.10 L429.60,143.21 L430.00,143.48 L430.40,143.08 L430.80,143.42 L431.20,143.37 L431.60,143.14 L432.00,143.34 L432.40,143.53 L432.80,143.47 L433.20,143.21 L433.60,143.77 L434.00,143.66 L434.40,143.78 L434.80,143.26 L435.20,143.36 L435.60,143.23 L436.00,143.68 L436.40,143.37 L436.80,143.29 L437.20,143.47 L437.40,143.76 L437.65,143.70 L437.90,143.37 L438.15,143.30 L438.40,143.75 L438.65,143.53 L438.90,143.60 L439.15,143.19 L439.40,143.08 L439.65,143.22 L439.90,142.64 L440.15,142.06 L440.40,141.75 L440.65,142.06 L440.90,142.65 L441.15,142.86 L441.40,143.56 L441.65,143.19 L441.90,143.70 L442.15,143.48 L442.40,143.42 L442.65,143.55 L442.90,143.78 L443.15,143.39 L443.40,143.31 L443.60,143.56 L444.00,143.39 L444.40,143.31 L444.80,143.34 L445.20,143.28 L445.60,143.37 L446.00,143.44 L446.40,143.43 L446.80,143.70 L447.20,143.42 L447.60,143.55 L448.00,143.35 L448.40,143.45 L448.80,143.25 L449.20,143.39 L449.60,143.25 L450.00,143.67 L450.40,143.56 L450.80,143.34 L451.20,143.50 L451.60,143.77 L452.00,143.27 L452.40,143.68 L452.80,143.44 L453.20,143.45 L453.60,143.63 L454.00,143.34 L454.40,143.36 L454.60,143.44 L454.85,143.57 L455.10,143.13 L455.35,143.34 L455.60,143.15 L455.85,142.91 L456.10,142.37 L456.35,141.48 L456.60,139.61 L456.85,136.78 L457.10,133.09 L457.35,129.23 L457.60,127.48 L457.85,129.23 L458.10,133.09 L458.35,137.21 L458.60,140.10 L458.85,141.68 L459.10,142.30 L459.35,142.67 L459.60,142.90 L459.85,143.12 L460.10,143.02 L460.35,143.25 L460.60,143.18 L460.80,143.63 L461.20,143.68 L461.60,143.46 L462.00,143.30 L462.40,143.75 L462.80,143.37 L463.20,143.41 L463.60,143.21 L464.00,143.44 L464.40,143.50 L464.80,143.52 L465.20,143.34 L465.60,143.52 L466.00,143.22 L466.25,143.37 L466.50,143.27 L466.75,143.45 L467.00,143.22 L467.25,143.19 L467.50,143.33 L467.75,143.22 L468.00,143.28 L468.25,142.96 L468.50,142.51 L468.75,142.06 L469.00,141.85 L469.25,142.06 L469.50,142.51 L469.75,142.83 L470.00,143.51 L470.25,143.16 L470.30,143.52 L470.50,143.52 L470.55,143.17 L470.75,143.66 L470.80,143.70 L471.00,143.54 L471.05,143.61 L471.25,143.65 L471.30,143.25 L471.50,143.47 L471.55,143.45 L471.75,143.63 L471.80,143.60 L472.00,143.56 L472.05,143.39 L472.30,143.40 L472.55,142.94 L472.80,142.33 L473.05,141.80 L473.30,141.55 L473.55,141.80 L473.80,142.33 L474.05,142.60 L474.30,143.37 L474.55,143.39 L474.80,143.51 L475.05,143.55 L475.30,143.60 L475.55,143.49 L475.80,143.21 L476.05,143.69 L476.30,143.66 L476.40,143.52 L476.80,143.54 L477.20,143.62 L477.60,143.26 L478.00,143.66 L478.40,143.37 L478.80,143.26 L479.20,143.37 L479.60,143.64 L480.00,143.32 L480.40,143.63 L480.80,143.76 L481.20,143.46 L481.60,143.38 L482.00,143.41 L482.40,143.51 L482.80,143.53 L483.20,143.41 L483.60,143.37 L484.00,142.97 L484.40,142.93 L484.80,142.87 L485.05,143.06 L485.30,142.66 L485.55,142.64 L485.80,142.05 L486.05,141.63 L486.30,140.85 L486.55,139.16 L486.80,135.33 L487.05,128.83 L487.30,119.89 L487.55,111.14 L487.80,107.19 L488.05,111.14 L488.30,119.89 L488.55,128.96 L488.80,135.04 L489.05,139.34 L489.30,141.25 L489.55,141.60 L489.80,142.32 L490.05,142.79 L490.30,143.06 L490.55,142.89 L490.80,142.88 L491.20,142.97 L491.60,143.50 L492.00,143.12 L492.40,143.39 L492.80,143.16 L493.20,143.42 L493.60,143.70 L494.00,143.23 L494.40,143.66 L494.80,143.49 L495.20,143.73 L495.60,143.62 L496.00,143.35 L496.40,143.76 L496.80,143.52 L497.20,143.24 L497.60,143.24 L498.00,143.53 L498.40,143.51 L498.80,143.43 L499.20,143.33 L499.60,143.46 L500.00,143.44 L500.40,143.76 L500.80,143.26 L501.20,143.71 L501.60,143.76 L502.00,143.33 L502.40,143.82 L502.80,143.69 L503.20,143.81 L503.60,143.44 L504.00,143.49 L504.40,143.50 L504.80,143.87 L505.20,143.62 L505.60,143.48 L506.00,143.52 L506.40,143.43 L506.80,143.29 L507.20,143.33 L507.60,143.76 L508.00,143.43 L508.40,143.82 L508.80,143.41 L509.20,143.42 L509.60,143.56 L510.00,143.36 L510.40,143.47 L510.80,143.81 L511.20,143.76 L511.60,143.70 L511.80,143.58 L512.05,143.74 L512.30,143.73 L512.55,143.47 L512.80,143.52 L513.05,143.03 L513.30,143.27 L513.55,142.80 L513.80,142.52 L514.05,141.83 L514.30,141.04 L514.55,140.43 L514.80,140.18 L515.05,140.43 L515.30,141.04 L515.55,141.65 L515.80,142.25 L516.05,142.97 L516.30,143.41 L516.55,143.15 L516.80,143.48 L517.05,143.32 L517.30,143.50 L517.55,143.43 L517.80,143.30 L518.00,143.31 L518.40,143.35 L518.80,143.78 L519.20,143.54 L519.60,143.38 L520.00,143.80 L520.40,143.85 L520.80,143.53 L521.20,143.34 L521.60,143.38 L522.00,143.32 L522.40,143.47 L522.80,143.32 L523.20,143.41 L523.60,143.42 L524.00,143.61 L524.40,143.80 L524.80,143.72 L525.20,143.51 L525.60,143.51 L526.00,143.58 L526.40,143.49 L526.80,143.46 L527.20,143.30 L527.60,143.43 L528.00,143.84 L528.40,143.33 L528.80,143.55 L529.20,143.63 L529.60,143.76 L530.00,143.37 L530.40,143.40 L530.80,143.38 L531.20,143.47 L531.60,143.49 L532.00,143.79 L532.40,143.72 L532.80,143.72 L533.20,143.20 L533.60,143.19 L534.00,143.58 L534.40,143.67 L534.80,143.39 L535.20,143.43 L535.60,143.04 L536.00,143.22 L536.40,143.46 L536.80,143.30 L537.05,143.23 L537.30,143.18 L537.55,142.59 L537.80,142.26 L538.05,141.84 L538.30,141.16 L538.55,139.48 L538.80,136.41 L539.05,131.27 L539.30,124.81 L539.55,118.88 L539.80,116.30 L540.05,118.88 L540.30,124.81 L540.55,131.31 L540.80,135.98 L541.05,139.62 L541.30,141.24 L541.55,141.93 L541.80,142.27 L542.05,142.59 L542.30,142.98 L542.55,143.13 L542.80,142.87 L543.20,142.95 L543.60,143.30 L544.00,143.39 L544.40,143.31 L544.80,143.25"/>
<path d="M319.20,232.00 L319.45,232.00 L319.70,232.00 L319.95,232.00 L320.20,232.00 L320.45,232.00 L320.70,232.00 L320.95,232.00 L321.20,232.00 L321.45,232.00 L321.70,232.00 L321.95,232.00 L322.20,232.00 L322.45,232.00 L322.70,232.00 L322.95,232.00 L323.20,232.00 L323.45,232.00 L323.70,232.00 L323.95,232.00 L324.20,232.00 L324.45,232.00 L324.70,232.00 L324.95,232.00 L325.20,232.00 L325.45,232.00 L325.70,232.00 L325.95,232.00 L326.20,232.00 L326.45,232.00 L326.70,232.00 L326.95,232.00 L327.20,232.00 L327.45,232.00 L327.70,232.00 L327.95,232.00 L328.20,232.00 L328.45,232.00 L328.70,232.00 L328.95,232.00 L329.20,232.00 L329.45,232.00 L329.70,232.00 L329.95,232.00 L330.20,232.00 L330.45,232.00 L330.70,232.00 L330.95,232.00 L331.20,232.00 L331.45,232.00 L331.70,232.00 L331.95,232.00 L332.20,232.00 L332.45,232.00 L332.70,232.00 L332.95,232.00 L333.20,232.00 L333.45,232.00 L333.70,232.00 L333.95,232.00 L334.20,232.00 L334.45,232.00 L334.70,232.00 L334.95,232.00 L335.20,232.00 L335.45,232.00 L335.70,232.00 L335.95,232.00 L336.20,232.00 L336.45,232.00 L336.70,232.00 L336.95,232.00 L337.20,232.00 L337.45,232.00 L337.70,232.00 L337.95,232.00 L338.20,232.00 L338.45,232.00 L338.70,232.00 L338.95,232.00 L339.20,232.00 L339.45,232.00 L339.70,232.00 L339.95,232.00 L340.20,232.00 L340.45,232.00 L340.70,232.00 L340.95,232.00 L341.20,232.00 L341.45,232.00 L341.70,232.00 L341.95,232.00 L342.20,232.00 L342.45,232.00 L342.70,232.00 L342.95,232.00 L343.20,232.00 L343.45,232.00 L343.70,232.00 L343.95,232.00 L344.20,232.00 L344.45,232.00 L344.70,232.00 L344.95,232.00 L345.20,232.00 L345.45,232.00 L345.70,232.00 L345.95,232.00 L346.20,232.00 L346.45,232.00 L346.70,232.00 L346.95,232.00 L347.20,232.00 L347.45,232.00 L347.70,232.00 L347.95,232.00 L348.20,232.00 L348.45,232.00 L348.70,232.00 L348.95,232.00 L349.20,232.00 L349.45,232.00 L349.70,232.00 L349.95,232.00 L350.20,232.00 L350.45,232.00 L350.70,232.00 L350.95,232.00 L351.20,232.00 L351.45,232.00 L351.70,232.00 L351.95,232.00 L352.20,232.00 L352.45,232.00 L352.70,232.00 L352.95,232.00 L353.20,232.00 L353.45,232.00 L353.70,232.00 L353.95,232.00 L354.20,232.00 L354.45,232.00 L354.70,232.00 L354.95,232.00 L355.20,232.00 L355.45,232.00 L355.70,232.00 L355.95,232.00 L356.20,232.00 L356.45,232.00 L356.70,232.00 L356.95,232.00 L357.20,232.00 L357.45,232.00 L357.70,232.00 L357.95,232.00 L358.20,232.00 L358.45,232.00 L358.70,232.00 L358.95,232.00 L359.20,232.00 L359.45,232.00 L359.70,232.00 L359.95,232.00 L360.20,232.00 L360.45,232.00 L360.70,232.00 L360.95,232.00 L361.20,232.00 L361.45,232.00 L361.70,232.00 L361.95,232.00 L362.20,232.00 L362.45,232.00 L362.70,232.00 L362.95,232.00 L363.20,232.00 L363.45,232.00 L363.70,232.00 L363.95,232.00 L364.20,232.00 L364.45,232.00 L364.70,232.00 L364.95,232.00 L365.20,232.00 L365.45,232.00 L365.70,232.00 L365.95,232.00 L366.20,232.00 L366.45,232.00 L366.70,232.00 L366.95,232.00 L367.20,232.00 L367.45,232.00 L367.70,232.00 L367.95,232.00 L368.20,232.00 L368.45,232.00 L368.70,232.00 L368.95,232.00 L369.20,232.00 L369.45,232.00 L369.70,232.00 L369.95,232.00 L370.20,232.00 L370.45,232.00 L370.70,232.00 L370.95,232.00 L371.20,232.00 L371.45,232.00 L371.70,232.00 L371.95,232.00 L372.20,232.00 L372.45,232.00 L372.70,232.00 L372.95,232.00 L373.20,232.00 L373.45,232.00 L373.70,231.99 L373.95,231.99 L374.20,231.99 L374.45,231.99 L374.70,231.99 L374.95,231.99 L375.20,231.99 L375.40,231.99 L375.65,231.99 L375.90,231.98 L376.15,231.96 L376.40,231.92 L376.65,231.83 L376.90,231.66 L377.15,231.36 L377.40,230.92 L377.65,230.37 L377.90,229.80 L378.15,229.37 L378.40,229.20 L378.65,229.37 L378.90,229.80 L379.15,230.37 L379.40,230.92 L379.65,231.36 L379.90,231.66 L380.15,231.83 L380.40,231.92 L380.65,231.96 L380.90,231.98 L381.15,231.99 L381.40,231.99 L381.45,231.99 L381.70,231.99 L381.95,231.99 L382.20,231.99 L382.45,231.99 L382.70,231.99 L382.95,231.99 L383.20,231.99 L383.45,232.00 L383.70,232.00 L383.95,232.00 L384.20,232.00 L384.45,232.00 L384.70,232.00 L384.95,232.00 L385.20,232.00 L385.45,232.00 L385.70,232.00 L385.95,232.00 L386.20,232.00 L386.45,232.00 L386.70,232.00 L386.95,232.00 L387.20,232.00 L387.45,232.00 L387.70,232.00 L387.95,232.00 L388.20,232.00 L388.45,232.00 L388.70,232.00 L388.95,232.00 L389.20,232.00 L389.45,232.00 L389.70,232.00 L389.95,232.00 L390.20,232.00 L390.45,232.00 L390.70,232.00 L390.95,232.00 L391.20,232.00 L391.45,232.00 L391.70,232.00 L391.95,232.00 L392.20,232.00 L392.45,232.00 L392.70,232.00 L392.95,232.00 L393.20,232.00 L393.45,232.00 L393.70,232.00 L393.95,232.00 L394.20,232.00 L394.45,232.00 L394.70,232.00 L394.95,232.00 L395.20,232.00 L395.45,232.00 L395.70,232.00 L395.95,232.00 L396.20,232.00 L396.45,232.00 L396.70,232.00 L396.95,232.00 L397.20,232.00 L397.45,232.00 L397.70,232.00 L397.95,232.00 L398.20,232.00 L398.45,232.00 L398.70,232.00 L398.95,232.00 L399.20,232.00 L399.45,232.00 L399.70,232.00 L399.95,232.00 L400.20,232.00 L400.45,232.00 L400.70,232.00 L400.95,232.00 L401.20,232.00 L401.45,232.00 L401.70,232.00 L401.95,232.00 L402.20,232.00 L402.45,232.00 L402.70,232.00 L402.95,232.00 L403.20,232.00 L403.45,232.00 L403.70,232.00 L403.95,232.00 L404.20,232.00 L404.45,232.00 L404.70,232.00 L404.95,232.00 L405.20,232.00 L405.45,232.00 L405.70,232.00 L405.95,231.99 L406.20,231.99 L406.45,231.99 L406.70,231.99 L406.95,231.99 L407.20,231.99 L407.45,231.99 L407.70,231.99 L407.95,231.99 L408.20,231.99 L408.45,231.99 L408.70,231.99 L408.95,231.99 L409.20,231.99 L409.45,231.99 L409.70,231.99 L409.95,231.99 L410.20,231.99 L410.45,231.99 L410.70,231.99 L410.95,231.99 L411.20,231.99 L411.45,231.99 L411.70,231.99 L411.95,231.99 L412.20,231.99 L412.45,231.99 L412.70,231.99 L412.95,231.99 L413.20,231.99 L413.45,231.98 L413.70,231.98 L413.95,231.98 L414.20,231.98 L414.45,231.98 L414.70,231.98 L414.95,231.98 L415.20,231.98 L415.45,231.98 L415.70,231.97 L415.95,231.97 L416.20,231.97 L416.45,231.97 L416.70,231.97 L416.95,231.96 L417.20,231.96 L417.45,231.96 L417.70,231.95 L417.95,231.95 L418.20,231.94 L418.45,231.94 L418.70,231.93 L418.95,231.92 L419.20,231.91 L419.45,231.90 L419.70,231.88 L419.95,231.86 L420.00,231.86 L420.25,231.83 L420.50,231.79 L420.75,231.73 L421.00,231.56 L421.25,231.07 L421.50,229.64 L421.75,226.04 L422.00,218.63 L422.25,206.48 L422.50,191.16 L422.75,177.62 L423.00,172.10 L423.25,177.62 L423.50,191.16 L423.75,206.48 L424.00,218.63 L424.25,226.04 L424.50,229.64 L424.75,231.07 L425.00,231.56 L425.25,231.73 L425.50,231.79 L425.75,231.83 L426.00,231.86 L426.20,231.87 L426.45,231.89 L426.70,231.90 L426.95,231.91 L427.20,231.92 L427.45,231.93 L427.70,231.94 L427.95,231.94 L428.20,231.95 L428.45,231.95 L428.70,231.96 L428.95,231.96 L429.20,231.96 L429.45,231.97 L429.70,231.97 L429.95,231.97 L430.20,231.97 L430.45,231.98 L430.70,231.98 L430.95,231.98 L431.20,231.98 L431.45,231.98 L431.70,231.98 L431.95,231.98 L432.20,231.98 L432.45,231.98 L432.70,231.98 L432.95,231.99 L433.20,231.99 L433.45,231.99 L433.70,231.99 L433.95,231.99 L434.20,231.99 L434.45,231.99 L434.70,231.99 L434.95,231.99 L435.20,231.99 L435.45,231.99 L435.70,231.99 L435.95,231.99 L436.20,231.99 L436.45,231.99 L436.70,231.99 L436.95,231.99 L437.20,231.99 L437.45,231.99 L437.70,231.99 L437.95,231.99 L438.20,231.99 L438.45,231.99 L438.70,231.99 L438.95,231.99 L439.20,231.99 L439.45,231.99 L439.70,231.99 L439.95,231.99 L440.20,231.99 L440.45,231.99 L440.70,231.99 L440.95,231.99 L441.20,231.99 L441.45,231.99 L441.70,231.99 L441.95,232.00 L442.20,232.00 L442.45,232.00 L442.70,232.00 L442.95,232.00 L443.20,232.00 L443.45,232.00 L443.70,232.00 L443.95,232.00 L444.20,232.00 L444.45,232.00 L444.70,232.00 L444.95,232.00 L445.20,232.00 L445.45,232.00 L445.70,232.00 L445.95,232.00 L446.20,232.00 L446.45,232.00 L446.70,232.00 L446.95,232.00 L447.20,232.00 L447.45,232.00 L447.70,232.00 L447.95,232.00 L448.20,232.00 L448.45,232.00 L448.70,231.99 L448.95,231.99 L449.20,231.99 L449.45,231.99 L449.70,231.99 L449.95,231.99 L450.20,231.99 L450.45,231.99 L450.70,231.99 L450.95,231.99 L451.20,231.99 L451.45,231.99 L451.70,231.99 L451.95,231.99 L452.20,231.99 L452.45,231.99 L452.70,231.99 L452.95,231.99 L453.20,231.99 L453.45,231.99 L453.70,231.99 L453.95,231.98 L454.20,231.98 L454.45,231.98 L454.70,231.98 L454.80,231.98 L455.05,231.97 L455.30,231.96 L455.55,231.95 L455.80,231.92 L456.05,231.83 L456.30,231.57 L456.55,230.98 L456.80,229.82 L457.05,228.02 L457.30,225.84 L457.55,223.96 L457.80,223.20 L458.05,223.96 L458.30,225.84 L458.55,228.02 L458.80,229.82 L459.05,230.98 L459.30,231.57 L459.55,231.83 L459.80,231.92 L460.05,231.95 L460.30,231.97 L460.55,231.97 L460.80,231.98 L460.95,231.98 L461.20,231.98 L461.45,231.98 L461.70,231.98 L461.95,231.99 L462.20,231.99 L462.45,231.99 L462.70,231.99 L462.95,231.99 L463.20,231.99 L463.45,231.99 L463.70,231.99 L463.95,231.99 L464.20,231.99 L464.45,231.99 L464.70,231.99 L464.95,231.99 L465.20,231.99 L465.45,231.99 L465.70,231.99 L465.95,231.99 L466.20,232.00 L466.45,232.00 L466.70,232.00 L466.95,232.00 L467.20,232.00 L467.45,232.00 L467.70,232.00 L467.95,232.00 L468.20,232.00 L468.45,232.00 L468.70,232.00 L468.95,232.00 L469.20,232.00 L469.45,232.00 L469.70,232.00 L469.95,232.00 L470.20,232.00 L470.45,232.00 L470.70,232.00 L470.95,232.00 L471.20,232.00 L471.45,232.00 L471.70,232.00 L471.95,232.00 L472.20,232.00 L472.45,232.00 L472.70,232.00 L472.95,232.00 L473.20,232.00 L473.45,232.00 L473.70,232.00 L473.95,232.00 L474.20,232.00 L474.45,232.00 L474.70,232.00 L474.95,232.00 L475.20,232.00 L475.45,232.00 L475.70,232.00 L475.95,232.00 L476.20,232.00 L476.45,232.00 L476.70,231.99 L476.95,231.99 L477.20,231.99 L477.45,231.99 L477.70,231.99 L477.95,231.99 L478.20,231.99 L478.45,231.99 L478.70,231.99 L478.95,231.99 L479.20,231.99 L479.45,231.99 L479.70,231.99 L479.95,231.99 L480.20,231.99 L480.45,231.99 L480.70,231.99 L480.95,231.99 L481.20,231.99 L481.45,231.99 L481.70,231.99 L481.95,231.99 L482.20,231.98 L482.45,231.98 L482.70,231.98 L482.95,231.98 L483.20,231.98 L483.45,231.98 L483.70,231.97 L483.95,231.97 L484.20,231.97 L484.45,231.96 L484.70,231.96 L484.95,231.95 L485.00,231.95 L485.25,231.94 L485.50,231.92 L485.75,231.90 L486.00,231.84 L486.25,231.66 L486.50,231.14 L486.75,229.83 L487.00,227.13 L487.25,222.71 L487.50,217.14 L487.75,212.21 L488.00,210.20 L488.25,212.21 L488.50,217.14 L488.75,222.71 L489.00,227.13 L489.25,229.83 L489.50,231.14 L489.75,231.66 L490.00,231.84 L490.25,231.90 L490.50,231.92 L490.75,231.94 L491.00,231.95 L491.20,231.95 L491.45,231.96 L491.70,231.96 L491.95,231.97 L492.20,231.97 L492.45,231.97 L492.70,231.98 L492.95,231.98 L493.20,231.98 L493.45,231.98 L493.70,231.98 L493.95,231.99 L494.20,231.99 L494.45,231.99 L494.70,231.99 L494.95,231.99 L495.20,231.99 L495.45,231.99 L495.70,231.99 L495.95,231.99 L496.20,231.99 L496.45,231.99 L496.70,231.99 L496.95,231.99 L497.20,231.99 L497.45,231.99 L497.70,231.99 L497.95,231.99 L498.20,231.99 L498.45,231.99 L498.70,231.99 L498.95,231.99 L499.20,232.00 L499.45,232.00 L499.70,232.00 L499.95,232.00 L500.20,232.00 L500.45,232.00 L500.70,232.00 L500.95,232.00 L501.20,232.00 L501.45,232.00 L501.70,232.00 L501.95,232.00 L502.20,232.00 L502.45,232.00 L502.70,232.00 L502.95,232.00 L503.20,232.00 L503.45,232.00 L503.70,232.00 L503.95,232.00 L504.20,232.00 L504.45,232.00 L504.70,232.00 L504.95,232.00 L505.20,232.00 L505.45,232.00 L505.70,232.00 L505.95,232.00 L506.20,232.00 L506.45,232.00 L506.70,232.00 L506.95,232.00 L507.20,232.00 L507.45,232.00 L507.70,232.00 L507.95,232.00 L508.20,232.00 L508.45,232.00 L508.70,232.00 L508.95,232.00 L509.20,232.00 L509.45,232.00 L509.70,232.00 L509.95,232.00 L510.20,231.99 L510.45,231.99 L510.70,231.99 L510.95,231.99 L511.20,231.99 L511.45,231.99 L511.70,231.99 L511.95,231.99 L512.20,231.99 L512.30,231.99 L512.55,231.98 L512.80,231.98 L513.05,231.96 L513.30,231.91 L513.55,231.82 L513.80,231.66 L514.05,231.41 L514.30,231.06 L514.55,230.64 L514.80,230.23 L515.05,229.92 L515.30,229.80 L515.55,229.92 L515.80,230.23 L516.05,230.64 L516.30,231.06 L516.55,231.41 L516.80,231.66 L517.05,231.82 L517.30,231.91 L517.55,231.96 L517.80,231.98 L518.05,231.98 L518.30,231.99 L518.45,231.99 L518.70,231.99 L518.95,231.99 L519.20,231.99 L519.45,231.99 L519.70,231.99 L519.95,231.99 L520.20,231.99 L520.45,231.99 L520.70,232.00 L520.95,232.00 L521.20,232.00 L521.45,232.00 L521.70,232.00 L521.95,232.00 L522.20,232.00 L522.45,232.00 L522.70,232.00 L522.95,232.00 L523.20,232.00 L523.45,232.00 L523.70,232.00 L523.95,232.00 L524.20,232.00 L524.45,232.00 L524.70,232.00 L524.95,232.00 L525.20,232.00 L525.45,232.00 L525.70,232.00 L525.95,232.00 L526.20,232.00 L526.45,232.00 L526.70,232.00 L526.95,232.00 L527.20,232.00 L527.45,232.00 L527.70,232.00 L527.95,232.00 L528.20,232.00 L528.45,232.00 L528.70,232.00 L528.95,232.00 L529.20,232.00 L529.45,231.99 L529.70,231.99 L529.95,231.99 L530.20,231.99 L530.45,231.99 L530.70,231.99 L530.95,231.99 L531.20,231.99 L531.45,231.99 L531.70,231.99 L531.95,231.99 L532.20,231.99 L532.45,231.99 L532.70,231.99 L532.95,231.99 L533.20,231.99 L533.45,231.99 L533.70,231.99 L533.95,231.99 L534.20,231.99 L534.45,231.99 L534.70,231.98 L534.95,231.98 L535.20,231.98 L535.45,231.98 L535.70,231.98 L535.95,231.97 L536.20,231.97 L536.45,231.97 L536.70,231.96 L536.95,231.96 L537.20,231.95 L537.40,231.95 L537.65,231.94 L537.90,231.92 L538.15,231.90 L538.40,231.84 L538.65,231.66 L538.90,231.12 L539.15,229.79 L539.40,227.05 L539.65,222.54 L539.90,216.86 L540.15,211.85 L540.40,209.80 L540.65,211.85 L540.90,216.86 L541.15,222.54 L541.40,227.05 L541.65,229.79 L541.90,231.12 L542.15,231.66 L542.40,231.84 L542.65,231.90 L542.90,231.92 L543.15,231.94 L543.40,231.95 L543.45,231.95 L543.70,231.96 L543.95,231.96 L544.20,231.97 L544.45,231.97 L544.70,231.97"/>
</g>
<g fill="none" stroke="#1a1a1a" stroke-width="1.2"><circle cx="384.4" cy="133.4" r="2.35"/><circle cx="417.2" cy="132.9" r="2.35"/><circle cx="441.2" cy="133.0" r="2.35"/><circle cx="468.6" cy="133.5" r="2.35"/><circle cx="474.9" cy="133.5" r="2.35"/></g>
<g font-size="11">
<text x="19.70" y="251.9" text-anchor="middle">10</text>
<text x="64.29" y="251.9" text-anchor="middle">20</text>
<text x="108.88" y="251.9" text-anchor="middle">30</text>
<text x="153.47" y="251.9" text-anchor="middle">40</text>
<text x="198.06" y="251.9" text-anchor="middle">50</text>
<text x="242.65" y="251.9" text-anchor="middle">60</text>
<text x="319.20" y="252" text-anchor="middle">10</text>
<text x="364.30" y="252" text-anchor="middle">20</text>
<text x="409.40" y="252" text-anchor="middle">30</text>
<text x="454.50" y="252" text-anchor="middle">40</text>
<text x="499.60" y="252" text-anchor="middle">50</text>
<text x="544.70" y="252" text-anchor="middle">60</text>
<text x="238.5" y="182" text-anchor="end" font-size="12.6">ICSD #257399</text>
<text x="540.6" y="179.8" text-anchor="end" font-size="12.7">ICSD #158793</text>
</g>
<text x="1.8" y="12.0" font-size="12" font-weight="bold">a</text>
<text x="299.8" y="9.2" font-size="12" font-weight="bold">b</text>
<text transform="translate(9.35,179.8) rotate(-90)" font-size="12.7">Intensity / arb. units</text>
<text transform="translate(307.2,171.5) rotate(-90)" font-size="12.7">Intensity / arb. units</text>
<text x="95.8" y="276.4" font-size="12.8">2<tspan font-style="italic">θ</tspan> / degree</text>
<text x="399.8" y="271.7" font-size="12.8">2<tspan font-style="italic">θ</tspan> / degree</text>
</svg>
</body></html>
